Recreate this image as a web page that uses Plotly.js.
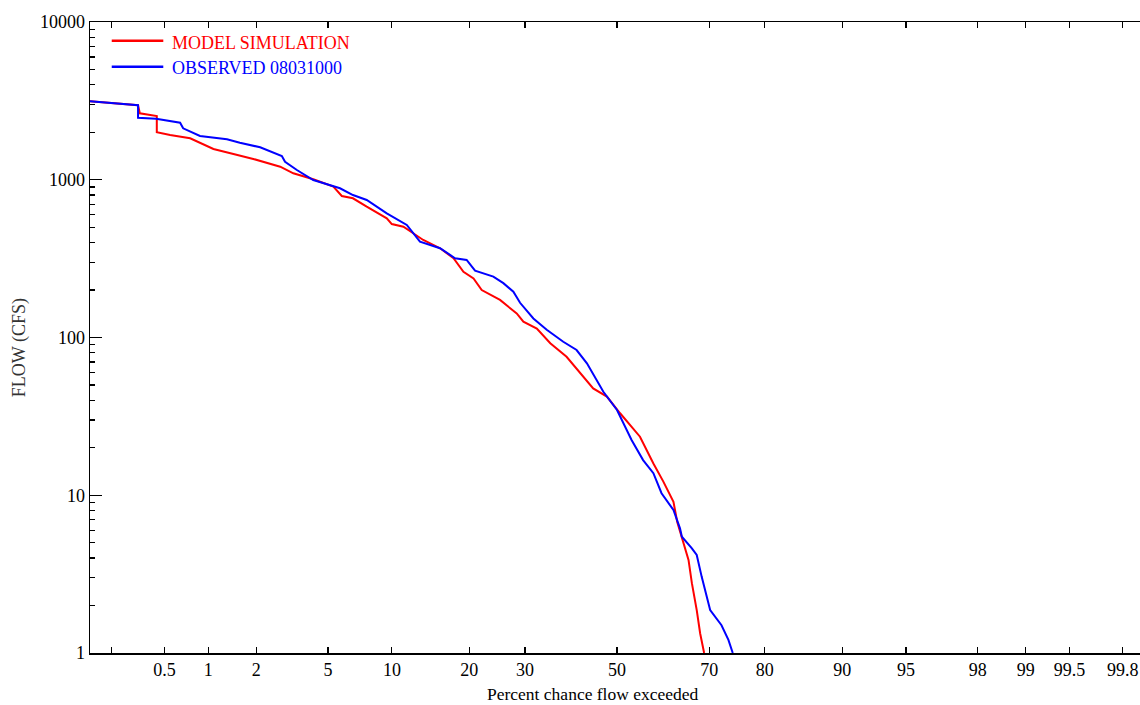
<!DOCTYPE html>
<html>
<head>
<meta charset="utf-8">
<script src="https://cdn.plot.ly/plotly-3.0.1.min.js"></script>
<style>html,body{margin:0;padding:0;background:#fff;}#chart{width:1140px;height:705px;}</style>
</head>
<body>
<div id="chart"></div>
<script>
// Percent chance flow exceeded (x) and flow in CFS (y)
const modelPct = [0.135,0.32,0.33,0.44,0.44,0.548,0.755,1.08,1.45,1.92,2.76,3.27,4.19,5.32,5.86,6.64,7.71,9.5,9.99,11.2,12.3,13.5,15.69,17.6,19.1,20.7,22.06,25.27,28.4,29.7,32.4,35.2,38.7,41.7,44.6,47.7,50.7,55.2,58.2,60.4,62.6,63.4,64.4,65.8,66.5,67.5,68.2,69.0];
const modelFlow = [3141,2965,2638,2535,1999,1922,1832,1567,1456,1355,1210,1099,1007,904,789,763,675,570,524,504,458,415,368,318,261,237,200,173,142,126,114,91.9,75.5,59.3,47.6,42.2,33.1,23.5,15.9,12.2,9.1,6.8,5.46,3.89,2.77,1.87,1.33,1.0];

const obsPct = [0.135,0.32,0.32,0.435,0.644,0.676,0.88,1.32,1.59,2.11,2.82,2.94,3.42,4.19,5.74,6.64,7.71,9.5,11.57,12.71,13.1,15.69,17.83,19.6,20.95,24.07,25.88,27.76,29.05,31.7,34.45,37.98,40.9,43.2,45.0,46.9,50.0,51.4,53.3,55.9,58.2,60.0,62.6,64.0,64.4,66.5,67.5,68.5,70.2,72.4,73.7,74.5];
const obsFlow = [3141,2965,2473,2438,2300,2119,1893,1804,1718,1606,1415,1301,1153,996,883,800,744,613,517,432,405,368,318,310,265,243,221,195,166,132,112,94,83.3,68.6,56.5,45.3,34.7,28.6,22.4,16.7,13.8,10.3,8.06,6.17,5.46,4.61,4.18,3.05,1.87,1.50,1.21,1.0];

const pctTicks = [0.2,0.5,1,2,5,10,20,30,50,70,80,90,95,98,99,99.5,99.8];
const pctLabels = ['','0.5','1','2','5','10','20','30','50','70','80','90','95','98','99','99.5','99.8'];
const flowTicks = [1,10,100,1000,10000];
const flowLabels = ['1','10','100','1000','10000'];

const seriesNames = ['MODEL SIMULATION','OBSERVED 08031000'];
const seriesColors = ['#ff0000','#0000ff'];

// inverse standard normal CDF (Acklam) -> normal probability scale
function probit(p){
  const a=[-3.969683028665376e+01,2.209460984245205e+02,-2.759285104469687e+02,1.383577518672690e+02,-3.066479806614716e+01,2.506628277459239e+00];
  const b=[-5.447609879822406e+01,1.615858368580409e+02,-1.556989798598866e+02,6.680131188771972e+01,-1.328068155288572e+01];
  const c=[-7.784894002430293e-03,-3.223964580411365e-01,-2.400758277161838e+00,-2.549732539343734e+00,4.374664141464968e+00,2.938163982698783e+00];
  const d=[7.784695709041462e-03,3.224671290700398e-01,2.445134137142996e+00,3.754408661907416e+00];
  const plow=0.02425, phigh=1-plow;
  let q,r;
  if(p<plow){q=Math.sqrt(-2*Math.log(p));return (((((c[0]*q+c[1])*q+c[2])*q+c[3])*q+c[4])*q+c[5])/((((d[0]*q+d[1])*q+d[2])*q+d[3])*q+1);}
  if(p<=phigh){q=p-0.5;r=q*q;return (((((a[0]*r+a[1])*r+a[2])*r+a[3])*r+a[4])*r+a[5])*q/(((((b[0]*r+b[1])*r+b[2])*r+b[3])*r+b[4])*r+1);}
  q=Math.sqrt(-2*Math.log(1-p));return -(((((c[0]*q+c[1])*q+c[2])*q+c[3])*q+c[4])*q+c[5])/((((d[0]*q+d[1])*q+d[2])*q+d[3])*q+1);
}
const toZ = arr => arr.map(v => probit(v/100));

const traces = [
  {x: toZ(modelPct), y: modelFlow, type:'scatter', mode:'lines', name: seriesNames[0], line:{color:seriesColors[0], width:2}},
  {x: toZ(obsPct), y: obsFlow, type:'scatter', mode:'lines', name: seriesNames[1], line:{color:seriesColors[1], width:2}}
];

const minorVals = [];
for (let dec=1; dec<10000; dec*=10) for (let k=2;k<=9;k++) minorVals.push(k*dec);

const fontFam = '"Liberation Serif", "Times New Roman", serif';

const layout = {
  width:1140, height:705,
  margin:{l:90, r:0, t:22, b:52, pad:0},
  paper_bgcolor:'#fff', plot_bgcolor:'#fff',
  showlegend:false,
  font:{family:fontFam, size:18, color:'#000'},
  xaxis:{
    range:[-3, 2.977], showgrid:false, zeroline:false,
    showline:true, linecolor:'#000', linewidth:1.5, mirror:'ticks',
    ticks:'inside', ticklen:6, tickwidth:1.2, tickcolor:'#000',
    tickmode:'array', tickvals: toZ(pctTicks), ticktext: pctLabels,
    tickfont:{family:fontFam, size:18, color:'#000'}
  },
  yaxis:{
    type:'log', range:[0,4], showgrid:false, zeroline:false,
    showline:true, linecolor:'#000', linewidth:1.5,
    ticks:'inside', ticklen:12, tickwidth:1.2, tickcolor:'#000',
    tickmode:'array', tickvals: flowTicks, ticktext: flowLabels,
    tickfont:{family:fontFam, size:18, color:'#000'},
    minor:{tickmode:'array', tickvals:minorVals, ticks:'inside', ticklen:5, tickwidth:1.2, tickcolor:'#000'}
  },
  shapes:[
    {type:'line', xref:'paper', yref:'paper', x0:0.0207, x1:0.0698, y0:0.9704, y1:0.9704, line:{color:seriesColors[0], width:2.5}},
    {type:'line', xref:'paper', yref:'paper', x0:0.0207, x1:0.0698, y0:0.9291, y1:0.9291, line:{color:seriesColors[1], width:2.5}}
  ],
  annotations:[
    {text:seriesNames[0], xref:'paper', yref:'paper', x:0.0762, y:0.9662, xanchor:'left', yanchor:'middle', showarrow:false, font:{family:fontFam, size:18, color:seriesColors[0]}},
    {text:seriesNames[1], xref:'paper', yref:'paper', x:0.0762, y:0.9266, xanchor:'left', yanchor:'middle', showarrow:false, font:{family:fontFam, size:18, color:seriesColors[1]}},
    {text:'Percent chance flow exceeded', xref:'paper', yref:'paper', x:0.4786, y:-0.0650, xanchor:'center', yanchor:'middle', showarrow:false, font:{family:fontFam, size:17.5, color:'#000'}},
    {text:'FLOW (CFS)', xref:'paper', yref:'paper', x:-0.0676, y:0.483, xanchor:'center', yanchor:'middle', textangle:-90, showarrow:false, font:{family:fontFam, size:18, color:'#333'}}
  ]
};

Plotly.newPlot('chart', traces, layout, {displayModeBar:false, staticPlot:true});
</script>
</body>
</html>
